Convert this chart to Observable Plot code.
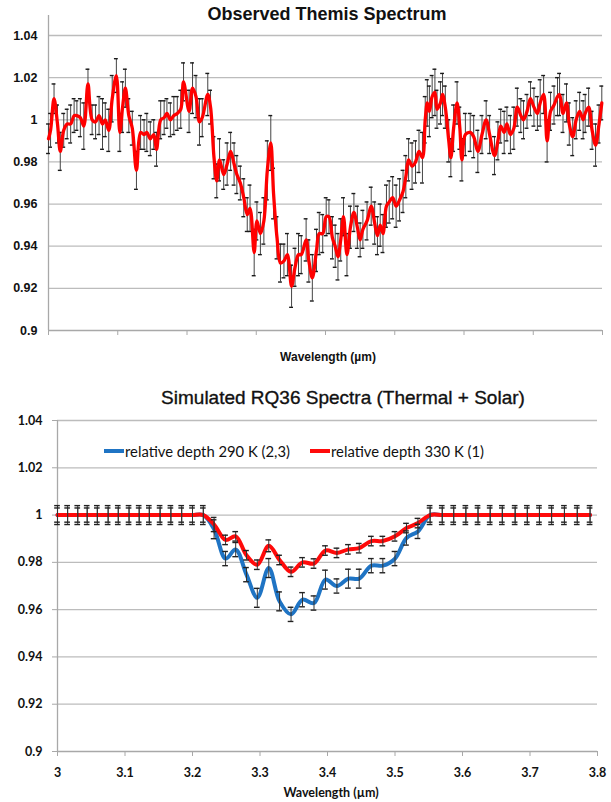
<!DOCTYPE html>
<html><head><meta charset="utf-8">
<script src="https://cdn.jsdelivr.net/npm/d3@7"></script>
<script src="https://cdn.jsdelivr.net/npm/@observablehq/plot@0.6"></script>
<style>
body{margin:0;background:#fff;}
#page{position:relative;width:611px;height:802px;overflow:hidden;background:#fff;}
.abs{position:absolute;white-space:nowrap;}
svg{position:absolute;left:0;}
</style></head><body><div id="page"></div>
<script>
// ---------- data ----------
const xTicks = [3.0, 3.1, 3.2, 3.3, 3.4, 3.5, 3.6, 3.7, 3.8];
const xTickLabels = ["3", "3.1", "3.2", "3.3", "3.4", "3.5", "3.6", "3.7", "3.8"];
const yTicks = [0.9, 0.92, 0.94, 0.96, 0.98, 1.0, 1.02, 1.04];
const yTickLabels = ["0.9", "0.92", "0.94", "0.96", "0.98", "1", "1.02", "1.04"];

// Observed Themis spectrum: [wavelength µm, relative reflectance, error]
const observed = [
[3.000,0.991,0.007],[3.003,0.995,0.008],[3.008,1.010,0.007],[3.013,0.998,0.009],[3.017,0.985,0.009],
[3.022,0.995,0.008],[3.027,0.998,0.007],[3.032,0.998,0.009],[3.037,1.002,0.008],[3.041,1.002,0.007],
[3.046,1.001,0.009],[3.051,0.997,0.011],[3.057,1.017,0.007],[3.063,1.000,0.007],[3.068,0.999,0.008],
[3.073,1.002,0.009],[3.078,0.998,0.012],[3.082,1.000,0.008],[3.087,0.995,0.010],[3.092,1.010,0.011],
[3.098,1.021,0.008],[3.103,0.994,0.009],[3.107,1.006,0.012],[3.111,1.015,0.009],[3.116,1.002,0.008],
[3.121,0.996,0.008],[3.127,0.976,0.009],[3.133,0.994,0.008],[3.138,0.993,0.007],[3.142,0.994,0.009],
[3.147,0.991,0.008],[3.152,0.993,0.007],[3.156,0.986,0.008],[3.162,1.000,0.009],[3.167,1.001,0.008],
[3.171,1.003,0.007],[3.176,1.000,0.008],[3.181,1.002,0.009],[3.186,1.003,0.008],[3.191,1.005,0.009],
[3.195,1.018,0.009],[3.203,1.004,0.010],[3.208,1.015,0.012],[3.213,1.011,0.010],[3.218,0.999,0.011],
[3.222,1.001,0.009],[3.230,1.012,0.010],[3.234,1.006,0.008],[3.239,0.982,0.010],[3.243,0.971,0.008],
[3.247,0.981,0.010],[3.253,0.974,0.007],[3.258,0.979,0.010],[3.263,0.985,0.009],[3.268,0.979,0.010],
[3.272,0.974,0.009],[3.277,0.970,0.008],[3.282,0.963,0.009],[3.287,0.955,0.008],[3.291,0.958,0.011],
[3.297,0.937,0.011],[3.301,0.952,0.009],[3.306,0.946,0.010],[3.311,0.952,0.011],[3.316,0.976,0.014],
[3.321,0.989,0.013],[3.325,0.965,0.012],[3.330,0.944,0.010],[3.335,0.932,0.009],[3.340,0.933,0.008],
[3.345,0.936,0.010],[3.351,0.921,0.010],[3.356,0.930,0.009],[3.361,0.936,0.010],[3.365,0.936,0.009],
[3.372,0.943,0.010],[3.376,0.933,0.010],[3.381,0.925,0.011],[3.387,0.938,0.010],[3.391,0.946,0.010],
[3.396,0.946,0.009],[3.401,0.954,0.009],[3.405,0.954,0.008],[3.410,0.944,0.010],[3.414,0.940,0.010],
[3.418,0.935,0.011],[3.422,0.943,0.010],[3.426,0.954,0.009],[3.431,0.936,0.010],[3.436,0.949,0.010],
[3.441,0.956,0.009],[3.446,0.949,0.010],[3.450,0.943,0.008],[3.454,0.948,0.009],[3.460,0.952,0.009],
[3.466,0.959,0.009],[3.471,0.951,0.010],[3.475,0.945,0.009],[3.479,0.950,0.010],[3.483,0.946,0.009],
[3.488,0.959,0.010],[3.492,0.961,0.010],[3.497,0.963,0.010],[3.502,0.959,0.010],[3.507,0.962,0.010],
[3.512,0.966,0.010],[3.516,0.973,0.010],[3.520,0.981,0.010],[3.525,0.978,0.011],[3.530,0.980,0.010],
[3.535,0.985,0.010],[3.540,0.982,0.012],[3.544,1.000,0.011],[3.547,1.008,0.011],[3.550,1.004,0.012],
[3.554,1.011,0.010],[3.558,1.013,0.011],[3.561,1.005,0.009],[3.566,1.008,0.010],[3.569,1.012,0.010],
[3.573,1.006,0.010],[3.578,0.990,0.010],[3.581,0.982,0.009],[3.585,0.996,0.011],[3.590,1.008,0.010],
[3.594,0.996,0.010],[3.597,0.981,0.010],[3.602,0.993,0.010],[3.609,0.994,0.009],[3.614,0.992,0.010],
[3.620,0.985,0.010],[3.626,0.993,0.009],[3.632,1.000,0.009],[3.637,0.993,0.009],[3.644,0.983,0.009],
[3.649,0.990,0.009],[3.653,0.997,0.008],[3.658,0.994,0.010],[3.662,0.998,0.008],[3.667,0.993,0.009],
[3.672,0.996,0.010],[3.677,1.006,0.009],[3.682,1.002,0.008],[3.686,1.000,0.009],[3.691,1.004,0.008],
[3.696,1.010,0.008],[3.701,1.006,0.009],[3.706,1.003,0.008],[3.710,1.008,0.011],[3.715,1.012,0.009],
[3.720,0.990,0.010],[3.725,1.004,0.009],[3.730,1.007,0.009],[3.735,1.011,0.009],[3.738,1.012,0.010],
[3.743,1.003,0.009],[3.748,1.008,0.009],[3.752,0.998,0.010],[3.757,0.992,0.009],[3.762,1.000,0.009],
[3.767,1.004,0.009],[3.772,1.000,0.009],[3.775,1.003,0.009],[3.780,1.006,0.009],[3.785,0.995,0.009],
[3.790,0.988,0.010],[3.795,0.998,0.009],[3.799,1.008,0.008]
];

// Simulated RQ36 spectra
const simWave = [3.000,3.015,3.030,3.044,3.059,3.075,3.090,3.106,3.121,3.136,3.152,3.168,3.184,3.200,3.216,
  3.232,3.249,3.264,3.280,3.296,3.313,3.329,3.346,3.363,3.380,3.397,3.414,3.431,3.447,3.465,3.482,3.500,3.517,3.534,3.552,
  3.570,3.587,3.605,3.623,3.641,3.659,3.678,3.696,3.714,3.732,3.751,3.770,3.789];
const depth290 = [1,1,1,1,1,1,1,1,1,1,1,1,1,1,1,
  0.994,0.9816,0.9854,0.9748,0.965,0.9776,0.9635,0.958,0.9642,0.9628,0.9727,0.970,0.9731,0.9731,0.9786,0.9786,0.9816,0.9903,0.9931,1.0,
  1,1,1,1,1,1,1,1,1,1,1,1,1];
const err290 = [0.004,0.004,0.004,0.004,0.004,0.004,0.004,0.004,0.004,0.004,0.004,0.004,0.004,0.004,0.004,
  0.004,0.003,0.003,0.003,0.004,0.004,0.004,0.003,0.003,0.003,0.004,0.003,0.004,0.004,0.003,0.003,0.003,0.003,0.003,0.004,
  0.004,0.004,0.004,0.004,0.004,0.004,0.004,0.004,0.004,0.004,0.004,0.004,0.004];
const depth330 = [1,1,1,1,1,1,1,1,1,1,1,1,1,1,1,
  0.996,0.9895,0.991,0.983,0.979,0.987,0.981,0.976,0.980,0.9795,0.985,0.984,0.9855,0.986,0.989,0.989,0.991,0.9945,0.9966,1.0,
  1,1,1,1,1,1,1,1,1,1,1,1,1];
const err330 = [0.003,0.003,0.003,0.003,0.003,0.003,0.003,0.003,0.003,0.003,0.003,0.003,0.003,0.003,0.003,
  0.003,0.002,0.002,0.002,0.002,0.0025,0.002,0.002,0.002,0.002,0.002,0.002,0.002,0.002,0.002,0.002,0.002,0.002,0.002,0.003,
  0.003,0.003,0.003,0.003,0.003,0.003,0.003,0.003,0.003,0.003,0.003,0.003,0.003];
const seriesNames = ["relative depth 290 K (2,3)", "relative depth 330 K (1)"];
const seriesColors = ["#1f74c4", "#ff0a0a"];
const titles = ["Observed Themis Spectrum", "Simulated RQ36 Spectra (Thermal + Solar)"];
const xLabel = "Wavelength (\u00b5m)";

// ---------- layout ----------
const page = document.getElementById("page");
const gridColor = "#bcbcbc";
const axisColor = "#a8a8a8";
const fmtY = d => yTickLabels[yTicks.indexOf(d)];
const fmtX = d => xTickLabels[xTicks.indexOf(d)];

function errorMarks(rows, xf, yf, ef, cap, barColor, capColor) {
  return [
    Plot.ruleX(rows, {x: xf, y1: d => yf(d) - ef(d), y2: d => yf(d) + ef(d), stroke: barColor, strokeWidth: 1}),
    Plot.ruleY(rows, {x1: d => xf(d) - cap, x2: d => xf(d) + cap, y: d => yf(d) + ef(d), stroke: capColor, strokeWidth: 1.4}),
    Plot.ruleY(rows, {x1: d => xf(d) - cap, x2: d => xf(d) + cap, y: d => yf(d) - ef(d), stroke: capColor, strokeWidth: 1.4})
  ];
}

// top chart
const topPlot = Plot.plot({
  width: 611, height: 370,
  marginLeft: 48, marginRight: 9, marginTop: 35, marginBottom: 40,
  x: {domain: [3.0, 3.8], axis: null},
  y: {domain: [0.9, 1.04], axis: null},
  style: {background: "transparent", overflow: "visible"},
  marks: [
    Plot.ruleY(yTicks.slice(1), {stroke: gridColor, strokeWidth: 1.3}),
    Plot.ruleY([0.9], {stroke: axisColor, strokeWidth: 1.3}),
    Plot.ruleX([3.0], {y1: 0.9, y2: 1.0495, stroke: axisColor, strokeWidth: 1.3}),
    Plot.axisX(xTicks, {tickSize: 5, tickFormat: () => "", stroke: axisColor, label: null}),
    Plot.axisY(yTicks, {tickSize: 0, tickPadding: 11, tickFormat: fmtY, label: null,
      fontSize: 12.5, fontWeight: "bold", fontFamily: "Liberation Sans, Arial, sans-serif", fill: "#111"}),
    ...errorMarks(observed, d => d[0], d => d[1], d => d[2], 0.0028, "#444", "#1a1a1a"),
    Plot.line(observed, {x: d => d[0], y: d => d[1], stroke: "#ff0000", strokeWidth: 3.3, curve: "catmull-rom"})
  ]
});
topPlot.style.top = "0px";
page.appendChild(topPlot);

// bottom chart
const sim = simWave.map((w, i) => ({w, a: depth290[i], ea: err290[i], b: depth330[i], eb: err330[i]}));
const botPlot = Plot.plot({
  width: 611, height: 397,
  marginLeft: 57, marginRight: 14, marginTop: 15, marginBottom: 51,
  x: {domain: [3.0, 3.8], axis: null},
  y: {domain: [0.9, 1.04], axis: null},
  style: {background: "transparent", overflow: "visible"},
  marks: [
    Plot.ruleY(yTicks.slice(1), {stroke: gridColor, strokeWidth: 1.3}),
    Plot.ruleY([0.9], {stroke: axisColor, strokeWidth: 1.3}),
    Plot.ruleX([3.0], {stroke: axisColor, strokeWidth: 1.3}),
    Plot.axisX(xTicks, {tickSize: 5, tickPadding: 12, tickFormat: fmtX, stroke: axisColor, label: null,
      fontSize: 12.5, fontWeight: "bold", fontFamily: "Lato, sans-serif", fill: "#111"}),
    Plot.axisY(yTicks, {tickSize: 5, tickPadding: 10, tickFormat: fmtY, stroke: axisColor, label: null,
      fontSize: 12.5, fontWeight: "bold", fontFamily: "Lato, sans-serif", fill: "#111"}),
    Plot.line(sim, {x: "w", y: "a", stroke: seriesColors[0], strokeWidth: 4, curve: "catmull-rom"}),
    Plot.line(sim, {x: "w", y: "b", stroke: seriesColors[1], strokeWidth: 4, curve: "catmull-rom"}),
    ...errorMarks(sim, d => d.w, d => d.a, d => d.ea, 0.0042, "#333", "#222"),
    ...errorMarks(sim, d => d.w, d => d.b, d => d.eb, 0.0042, "#333", "#222")
  ]
});
botPlot.style.top = "405px";
page.appendChild(botPlot);

// texts
function addText(txt, css) {
  const d = document.createElement("div");
  d.className = "abs";
  d.textContent = txt;
  Object.assign(d.style, css);
  page.appendChild(d);
  return d;
}
addText(titles[0], {left: "27px", width: "600px", textAlign: "center", top: "4px", lineHeight: "21px",
  font: "bold 18px 'Liberation Sans', Arial, sans-serif", color: "#111"});
addText(xLabel, {left: "28px", width: "600px", textAlign: "center", top: "350px", lineHeight: "16px",
  font: "bold 12px 'Liberation Sans', Arial, sans-serif", color: "#111"});
const t2 = addText(titles[1], {left: "43px", width: "600px", textAlign: "center", top: "387px", lineHeight: "22px",
  font: "19px 'Liberation Sans', Arial, sans-serif", color: "#111"});
t2.style.webkitTextStroke = "0.35px #111";
addText(xLabel, {left: "31px", width: "600px", textAlign: "center", top: "785px", lineHeight: "15px",
  font: "bold 12.5px Lato, sans-serif", color: "#111"});

// legend
const legendX = [104, 310];
seriesNames.forEach((name, i) => {
  const sw = document.createElement("div");
  sw.className = "abs";
  Object.assign(sw.style, {left: legendX[i] + "px", top: "449px", width: "20px", height: "4px", background: seriesColors[i]});
  page.appendChild(sw);
  addText(name, {left: (legendX[i] + 21) + "px", top: "442px", lineHeight: "18px", font: "14.8px Lato, sans-serif", color: "#111"});
});
</script>
</body></html>
